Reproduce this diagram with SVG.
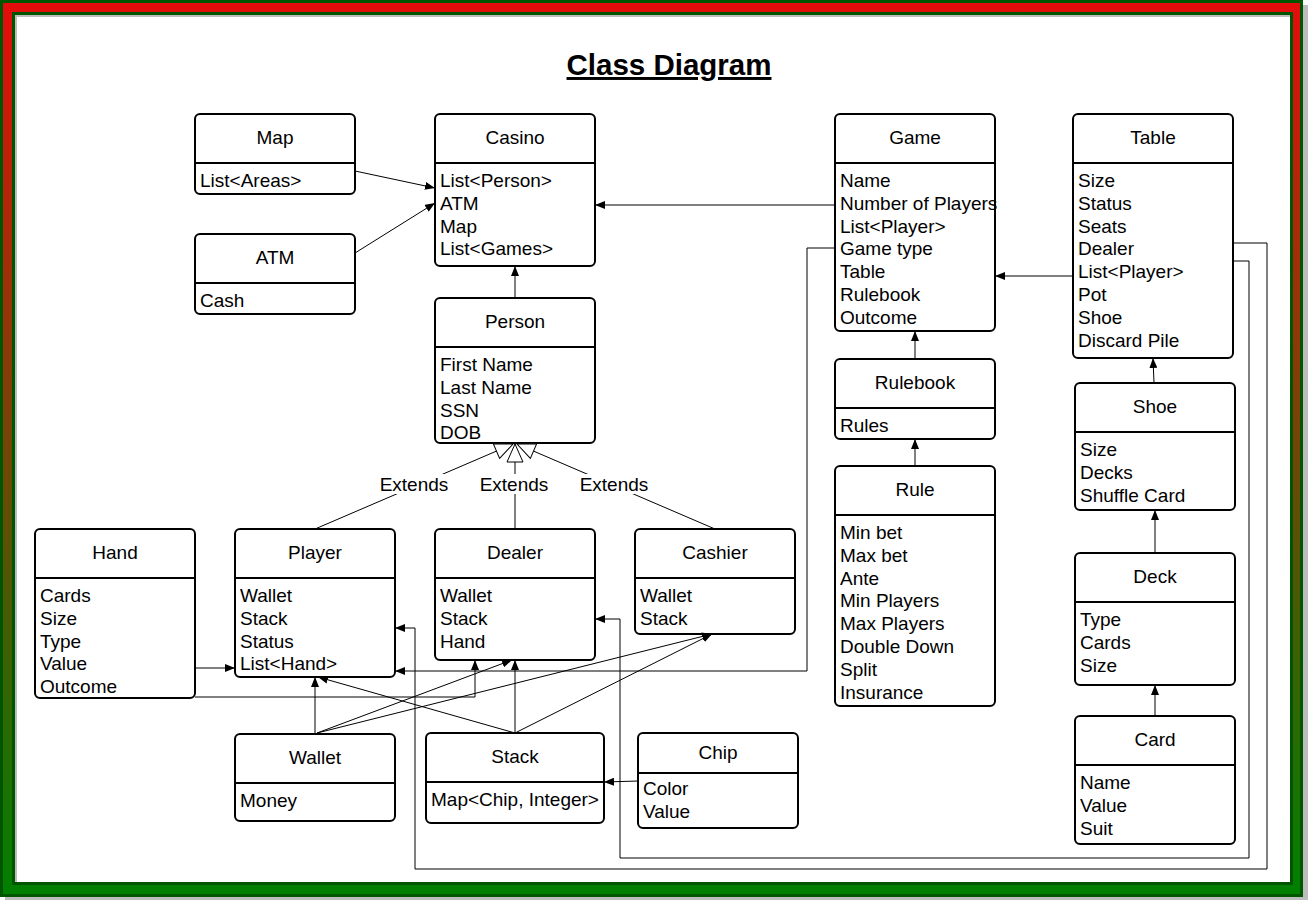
<svg xmlns="http://www.w3.org/2000/svg" width="1308" height="900" viewBox="0 0 1308 900">
<defs>
<linearGradient id="bg" x1="0" y1="0" x2="0" y2="1">
<stop offset="0" stop-color="#e50c0c"/>
<stop offset="1" stop-color="#008000"/>
</linearGradient>
<marker id="arr" viewBox="0 0 10 8" refX="10" refY="4" markerWidth="10" markerHeight="8" orient="auto" markerUnits="userSpaceOnUse">
<path d="M0,0 L10,4 L0,8 z" fill="#000"/>
</marker>
<marker id="ext" viewBox="-1 -1 20 18" refX="18" refY="8" markerWidth="20" markerHeight="18" orient="auto" markerUnits="userSpaceOnUse">
<path d="M0,0 L18,8 L0,16 z" fill="#fff" stroke="#000" stroke-width="1"/>
</marker>
</defs>
<style>
.box{fill:#fff;stroke:#000;stroke-width:2}
.sep{stroke:#000;stroke-width:2}
.t{font-family:"Liberation Sans",Arial,sans-serif;font-size:19px;fill:#000}
.c{text-anchor:middle}
.con path{fill:none;stroke:#000;stroke-width:1}
.lbl{fill:#fff}
</style>
<g id="frame">
<rect x="5" y="5" width="1303" height="895" fill="#bdbdbd"/>
<rect x="1.5" y="1.5" width="1300" height="894" fill="url(#bg)" stroke="#005500" stroke-width="3"/>
<rect x="13.5" y="13.5" width="1278" height="870" fill="#bdbdbd" stroke="#005500" stroke-width="3"/>
<rect x="17" y="17" width="1273" height="865" fill="#fff"/>
</g>
<text id="title" class="t c" x="669" y="75" style="font-size:29.5px;font-weight:bold;text-decoration:underline">Class Diagram</text>

<g id="map"><rect class="box" x="195" y="114" width="160" height="80" rx="5"/><line class="sep" x1="195" y1="163" x2="355" y2="163"/><text class="t c" x="275" y="144">Map</text><text class="t" x="200" y="187">List&lt;Areas&gt;</text></g>
<g id="atm"><rect class="box" x="195" y="234" width="160" height="80" rx="5"/><line class="sep" x1="195" y1="283" x2="355" y2="283"/><text class="t c" x="275" y="264">ATM</text><text class="t" x="200" y="307">Cash</text></g>
<g id="casino"><rect class="box" x="435" y="114" width="160" height="152" rx="5"/><line class="sep" x1="435" y1="163" x2="595" y2="163"/><text class="t c" x="515" y="144">Casino</text>
<text class="t" x="440" y="187">List&lt;Person&gt;</text><text class="t" x="440" y="209.8">ATM</text><text class="t" x="440" y="232.6">Map</text><text class="t" x="440" y="255.4">List&lt;Games&gt;</text></g>
<g id="person"><rect class="box" x="435" y="298" width="160" height="145" rx="5"/><line class="sep" x1="435" y1="347" x2="595" y2="347"/><text class="t c" x="515" y="328">Person</text>
<text class="t" x="440" y="371">First Name</text><text class="t" x="440" y="393.8">Last Name</text><text class="t" x="440" y="416.6">SSN</text><text class="t" x="440" y="439.4">DOB</text></g>
<g id="game"><rect class="box" x="835" y="114" width="160" height="217" rx="5"/><line class="sep" x1="835" y1="163" x2="995" y2="163"/><text class="t c" x="915" y="144">Game</text>
<text class="t" x="840" y="187">Name</text><text class="t" x="840" y="209.8">Number of Players</text><text class="t" x="840" y="232.6">List&lt;Player&gt;</text><text class="t" x="840" y="255.4">Game type</text><text class="t" x="840" y="278.2">Table</text><text class="t" x="840" y="301">Rulebook</text><text class="t" x="840" y="323.8">Outcome</text></g>
<g id="table"><rect class="box" x="1073" y="114" width="160" height="244" rx="5"/><line class="sep" x1="1073" y1="163" x2="1233" y2="163"/><text class="t c" x="1153" y="144">Table</text>
<text class="t" x="1078" y="187">Size</text><text class="t" x="1078" y="209.8">Status</text><text class="t" x="1078" y="232.6">Seats</text><text class="t" x="1078" y="255.4">Dealer</text><text class="t" x="1078" y="278.2">List&lt;Player&gt;</text><text class="t" x="1078" y="301">Pot</text><text class="t" x="1078" y="323.8">Shoe</text><text class="t" x="1078" y="346.6">Discard Pile</text></g>
<g id="rulebook"><rect class="box" x="835" y="359" width="160" height="80" rx="5"/><line class="sep" x1="835" y1="408" x2="995" y2="408"/><text class="t c" x="915" y="389">Rulebook</text><text class="t" x="840" y="432">Rules</text></g>
<g id="rule"><rect class="box" x="835" y="466" width="160" height="240" rx="5"/><line class="sep" x1="835" y1="515" x2="995" y2="515"/><text class="t c" x="915" y="496">Rule</text>
<text class="t" x="840" y="539">Min bet</text><text class="t" x="840" y="561.8">Max bet</text><text class="t" x="840" y="584.6">Ante</text><text class="t" x="840" y="607.4">Min Players</text><text class="t" x="840" y="630.2">Max Players</text><text class="t" x="840" y="653">Double Down</text><text class="t" x="840" y="675.8">Split</text><text class="t" x="840" y="698.6">Insurance</text></g>
<g id="shoe"><rect class="box" x="1075" y="383" width="160" height="127" rx="5"/><line class="sep" x1="1075" y1="432" x2="1235" y2="432"/><text class="t c" x="1155" y="413">Shoe</text>
<text class="t" x="1080" y="456">Size</text><text class="t" x="1080" y="478.8">Decks</text><text class="t" x="1080" y="501.6">Shuffle Card</text></g>
<g id="deck"><rect class="box" x="1075" y="553" width="160" height="132" rx="5"/><line class="sep" x1="1075" y1="602" x2="1235" y2="602"/><text class="t c" x="1155" y="583">Deck</text>
<text class="t" x="1080" y="626">Type</text><text class="t" x="1080" y="648.8">Cards</text><text class="t" x="1080" y="671.6">Size</text></g>
<g id="card"><rect class="box" x="1075" y="716" width="160" height="128" rx="5"/><line class="sep" x1="1075" y1="765" x2="1235" y2="765"/><text class="t c" x="1155" y="746">Card</text>
<text class="t" x="1080" y="789">Name</text><text class="t" x="1080" y="811.8">Value</text><text class="t" x="1080" y="834.6">Suit</text></g>
<g id="hand"><rect class="box" x="35" y="529" width="160" height="169" rx="5"/><line class="sep" x1="35" y1="578" x2="195" y2="578"/><text class="t c" x="115" y="559">Hand</text>
<text class="t" x="40" y="602">Cards</text><text class="t" x="40" y="624.8">Size</text><text class="t" x="40" y="647.6">Type</text><text class="t" x="40" y="670.4">Value</text><text class="t" x="40" y="693.2">Outcome</text></g>
<g id="player"><rect class="box" x="235" y="529" width="160" height="148" rx="5"/><line class="sep" x1="235" y1="578" x2="395" y2="578"/><text class="t c" x="315" y="559">Player</text>
<text class="t" x="240" y="602">Wallet</text><text class="t" x="240" y="624.8">Stack</text><text class="t" x="240" y="647.6">Status</text><text class="t" x="240" y="670.4">List&lt;Hand&gt;</text></g>
<g id="dealer"><rect class="box" x="435" y="529" width="160" height="131" rx="5"/><line class="sep" x1="435" y1="578" x2="595" y2="578"/><text class="t c" x="515" y="559">Dealer</text>
<text class="t" x="440" y="602">Wallet</text><text class="t" x="440" y="624.8">Stack</text><text class="t" x="440" y="647.6">Hand</text></g>
<g id="cashier"><rect class="box" x="635" y="529" width="160" height="105" rx="5"/><line class="sep" x1="635" y1="578" x2="795" y2="578"/><text class="t c" x="715" y="559">Cashier</text>
<text class="t" x="640" y="602">Wallet</text><text class="t" x="640" y="624.8">Stack</text></g>
<g id="wallet"><rect class="box" x="235" y="734" width="160" height="87" rx="5"/><line class="sep" x1="235" y1="783" x2="395" y2="783"/><text class="t c" x="315" y="764">Wallet</text><text class="t" x="240" y="807">Money</text></g>
<g id="stack"><rect class="box" x="426" y="733" width="178" height="90" rx="5"/><line class="sep" x1="426" y1="782" x2="604" y2="782"/><text class="t c" x="515" y="763">Stack</text><text class="t" x="431" y="806">Map&lt;Chip, Integer&gt;</text></g>
<g id="chip"><rect class="box" x="638" y="733" width="160" height="95" rx="5"/><line class="sep" x1="638" y1="773" x2="798" y2="773"/><text class="t c" x="718" y="758.5">Chip</text>
<text class="t" x="643" y="795">Color</text><text class="t" x="643" y="817.8">Value</text></g>

<g id="connectors" class="con">
<path d="M355,171 L435,188" marker-end="url(#arr)"/>
<path d="M355,253 L435,203" marker-end="url(#arr)"/>
<path d="M515,298 L515,266" marker-end="url(#arr)"/>
<path d="M835,205 L595,205" marker-end="url(#arr)"/>
<path d="M1073,276 L995,276" marker-end="url(#arr)"/>
<path d="M915,359 L915,331" marker-end="url(#arr)"/>
<path d="M915,466 L915,439" marker-end="url(#arr)"/>
<path d="M1154,383 L1153,358" marker-end="url(#arr)"/>
<path d="M1155,553 L1155,510" marker-end="url(#arr)"/>
<path d="M1155,716 L1155,685" marker-end="url(#arr)"/>
<path d="M195,668 L235,668" marker-end="url(#arr)"/>
<path d="M195,697 L475,697 L475,660" marker-end="url(#arr)"/>
<path d="M315,734 L315,677" marker-end="url(#arr)"/>
<path d="M317,733 L512,660" marker-end="url(#arr)"/>
<path d="M317,733 L712,634" marker-end="url(#arr)"/>
<path d="M515,733 L515,660" marker-end="url(#arr)"/>
<path d="M515,733 L318,677" marker-end="url(#arr)"/>
<path d="M515,733 L712,634" marker-end="url(#arr)"/>
<path d="M638,781 L604,782" marker-end="url(#arr)"/>
<path d="M835,248 L807,248 L807,671 L395,671" marker-end="url(#arr)"/>
<path d="M1233,243 L1267,243 L1267,869 L415,869 L415,628 L395,628" marker-end="url(#arr)"/>
<path d="M1233,261 L1249,261 L1249,858 L620,858 L620,619 L595,619" marker-end="url(#arr)"/>
<path d="M315,529 L513,444" marker-end="url(#ext)"/>
<path d="M715,529 L517,444" marker-end="url(#ext)"/>
<path d="M515,529 L515,444" marker-end="url(#ext)"/>
<rect class="lbl" x="380" y="474" width="68" height="20"/>
<rect class="lbl" x="480" y="474" width="68" height="20"/>
<rect class="lbl" x="580" y="474" width="68" height="20"/>
<text class="t c" x="414" y="490.5">Extends</text>
<text class="t c" x="514" y="490.5">Extends</text>
<text class="t c" x="614" y="490.5">Extends</text>
</g>
</svg>
